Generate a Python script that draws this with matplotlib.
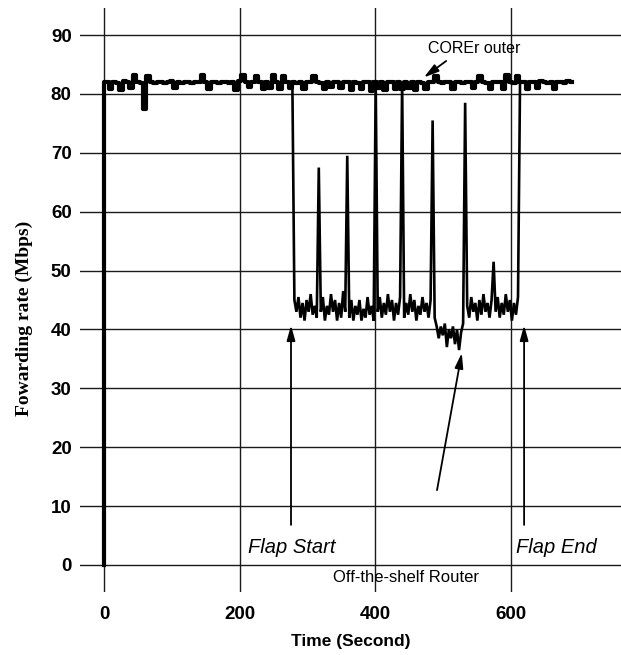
import numpy as np
import matplotlib
matplotlib.use("Agg")
import matplotlib.pyplot as plt

# CORE router, sampled every 5 s from 0 to 690 s (first point is the start-up jump)
core_t = np.concatenate([[0], np.arange(0, 691, 5)])
core_v = [
    0, 82,
    82, 80.8, 82, 81.8, 80.6, 82.2, 82, 81, 83.2,
    82, 81.9, 77.5, 83.1, 82, 81.8, 82.1, 82, 81.8, 82,
    82.2, 81, 82, 81.9, 82, 82.1, 81.8, 82, 82, 83.2,
    82, 80.9, 82, 82.1, 81.9, 82, 82, 81.8, 82, 80.7,
    82.2, 83.2, 82, 81.2, 82, 83.1, 82, 80.8, 82.1, 81,
    83.2, 82, 80.9, 83.1, 82, 81, 82, 81.9, 82, 80.9,
    82, 82.1, 83.1, 82, 81.9, 80.8, 82, 81.1, 82, 82,
    81, 82, 82.1, 80.6, 82, 81.9, 80.8, 82, 82, 80.5,
    82, 81, 82, 80.7, 82, 82.1, 80.8, 82, 80.9, 82,
    81, 82.1, 80.6, 82, 81.9, 80.9, 82, 82.1, 83.1, 82,
    81.9, 82, 82, 80.9, 82, 82.1, 81.9, 82, 82, 81,
    82, 83.1, 82, 81.8, 80.8, 82, 82.1, 82, 80.9, 83.2,
    82, 81.9, 83.1, 82, 82.1, 80.9, 82, 82, 81, 82.2,
    82, 81.9, 82, 80.9, 82, 82.1, 81.9, 82.2, 82,
]

# off-the-shelf router during the flap (it follows the CORE line outside it), every 3 s
off_t = np.arange(278, 615, 3)
off_v = [
    82, 45, 43, 45.5, 42, 44.5, 41.5, 45, 43, 46,
    42.5, 44, 42, 67.5, 43, 45.5, 41.5, 44, 42.5, 46,
    43, 45, 41.5, 44.5, 42, 46.5, 43, 69.5, 42, 45,
    41.5, 44, 42.5, 45, 41.5, 43.5, 42, 45.5, 42.5, 44,
    41.5, 82, 43, 45.5, 42, 44.5, 42.5, 46, 43, 45,
    41.5, 44.5, 42.5, 45.5, 82, 42, 44.5, 42.5, 46, 43,
    45, 41.5, 44, 42.5, 45.5, 43, 44.5, 42, 45, 75.5,
    42, 40.5, 38.5, 40.5, 39, 41, 37, 40, 38.5, 40.5,
    37.5, 40, 36.5, 39.5, 41, 78.5, 44, 42, 45.5, 43,
    44.5, 41.5, 45, 42.5, 46, 43, 44.5, 42, 45, 51.5,
    43, 45.5, 42, 44.5, 42.5, 46, 43, 45, 41.5, 44.5,
    42.5, 45.5, 82,
]

yticks = [0, 10, 20, 30, 40, 50, 60, 70, 80, 90]
xticks = [0, 200, 400, 600]

fig = plt.figure(figsize=(6.21, 6.55), dpi=100)
ax = fig.add_axes([80 / 621, 63 / 655, 541 / 621, 584 / 655])

ax.plot(off_t, off_v, color="black", lw=1.9, solid_joinstyle="miter")
ax.plot(core_t, core_v, color="black", lw=3.0, drawstyle="steps-mid")

ax.set_xlim(-35.4, 763)
ax.set_ylim(-4.6, 94.6)
ax.set_xticks(xticks)
ax.set_yticks(yticks)
ax.grid(True, color="#1a1a1a", lw=1.0)
ax.set_axisbelow(True)
for s in ax.spines.values():
    s.set_visible(False)
ax.tick_params(length=0, labelsize=13.5)
ax.tick_params(axis="x", pad=10)
ax.tick_params(axis="y", pad=6)
for lab in ax.get_xticklabels() + ax.get_yticklabels():
    lab.set_fontweight("bold")
    lab.set_fontfamily("Liberation Sans")

ax.set_xlabel("Time (Second)", fontsize=12.5, fontweight="bold",
              family="Liberation Sans", labelpad=8)
fig.text(24 / 621, 1 - 318 / 655, "Fowarding rate (Mbps)", rotation=90,
         ha="center", va="center", fontsize=14, fontweight="bold",
         family="Liberation Serif")

arrow = dict(arrowstyle="-|>,head_length=0.9,head_width=0.25", color="black", lw=1.3,
             shrinkA=0, shrinkB=0)

ax.text(546, 87.8, "COREr outer", ha="center", va="center", fontsize=11.5,
        family="Liberation Sans")
ax.annotate("", xy=(472, 82.8), xytext=(505, 85.6), arrowprops=arrow)

ax.text(446, -2.2, "Off-the-shelf Router", ha="center", va="center", fontsize=12,
        family="Liberation Sans")
ax.annotate("", xy=(528, 36), xytext=(491.5, 12.7), arrowprops=arrow)

ax.text(277, 2.9, "Flap Start", ha="center", va="center", fontsize=14.5,
        style="italic", family="Liberation Sans")
ax.annotate("", xy=(276, 40.7), xytext=(276, 6.8), arrowprops=arrow)

ax.text(668, 2.9, "Flap End", ha="center", va="center", fontsize=14.5,
        style="italic", family="Liberation Sans")
ax.annotate("", xy=(620, 40.7), xytext=(620, 6.8), arrowprops=arrow)

fig.savefig("out.png", dpi=100)
